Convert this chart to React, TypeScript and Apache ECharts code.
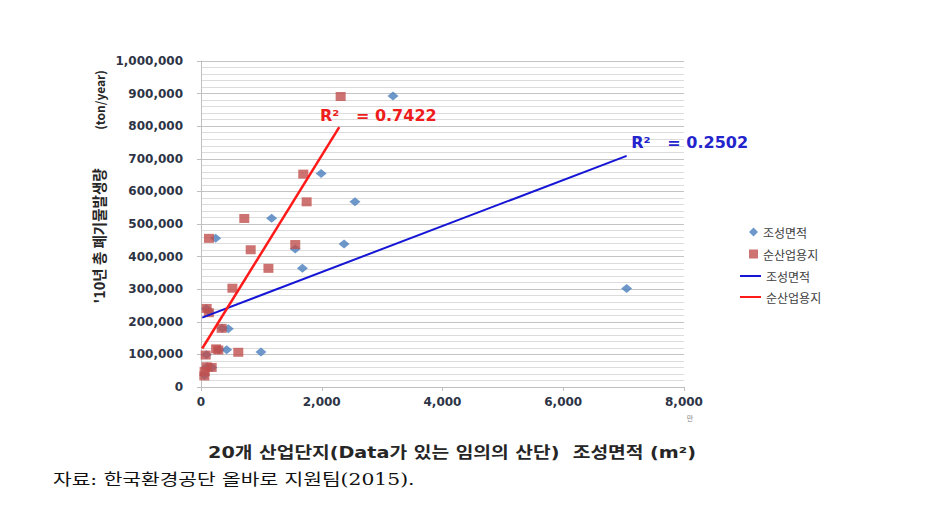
import React, { useEffect, useRef } from 'react';
import * as echarts from 'echarts';

// Series names (trend lines carry a zero-width mark so the legend keeps 4 items)
const areaName = '조성면적';
const netName = '순산업용지';
const areaTrendName = '조성면적\u200b';
const netTrendName = '순산업용지\u200b';

// 조성면적 (blue diamonds)
const areaX = [3180, 1990, 2550, 1170, 243, 2370, 1560, 1680, 7050, 452, 425, 993, 130, 90, 100, 60, 180, 300, 90, 350];
const areaY = [893000, 655000, 568000, 518000, 456000, 439000, 423000, 364000, 302000, 179000, 114000, 107000, 232000, 99000, 62000, 36000, 60000, 114000, 240000, 180000];

// 순산업용지 (red squares)
const netX = [2313, 1694, 1750, 717, 132, 823, 1561, 1117, 520, 94, 130, 342, 287, 250, 618, 78, 94, 177, 55, 60];
const netY = [891000, 653000, 568000, 517000, 456000, 421000, 437000, 364000, 303000, 241000, 228000, 180000, 113500, 117000, 106500, 98000, 62000, 60000, 34000, 48000];

// Linear trend lines (start / end)
const areaTrendX = [20, 7050];
const areaTrendY = [213000, 709000];
const netTrendX = [20, 2290];
const netTrendY = [118000, 797000];

const areaR2 = '0.2502';
const netR2 = '0.7422';

const xTicks = { min: 0, max: 8000, interval: 2000 };
const yTicks = { min: 0, max: 1000000, interval: 100000 };

const yAxisTitle = "'10년 총 폐기물발생량";
const yAxisUnit = '(ton/year)';
const xAxisTitle = '20개 산업단지(Data가 있는 임의의 산단)  조성면적 (m²)';
const unitMark = '만';
const sourceText = '자료: 한국환경공단 올바로 지원팀(2015).';

const zip = (xs: number[], ys: number[]) => xs.map((x, i) => [x, ys[i]]);

const tickFont = 'DejaVu Sans, Noto Sans CJK KR, sans-serif';

export default function App() {
  const ref = useRef<HTMLDivElement>(null);
  useEffect(() => {
    if (!ref.current) return;
    const chart = echarts.init(ref.current, undefined, { renderer: 'svg' });
    const r2Label = (val: string, color: string, offset: number[]) => ({
      show: true,
      position: 'inside',
      offset,
      formatter: `R²   = ${val}`,
      color,
      fontSize: 16,
      fontWeight: 'bold',
      fontFamily: tickFont,
    });
    const areaTrend = zip(areaTrendX, areaTrendY);
    const netTrend = zip(netTrendX, netTrendY);
    const legendText = { color: '#404040', fontSize: 12, fontFamily: 'Noto Sans CJK KR, sans-serif' };
    chart.setOption({
      animation: false,
      backgroundColor: '#ffffff',
      grid: { left: 201, right: 267, top: 61, bottom: 128 },
      xAxis: {
        type: 'value',
        ...xTicks,
        axisLine: { show: true, lineStyle: { color: '#bfbfbf' } },
        axisTick: { show: true, length: 4, lineStyle: { color: '#bfbfbf' } },
        splitLine: { show: false },
        axisLabel: {
          margin: 9,
          color: '#2d3446',
          fontWeight: 'bold',
          fontSize: 12,
          fontFamily: tickFont,
          formatter: (v: number) => v.toLocaleString('en-US'),
        },
      },
      yAxis: {
        type: 'value',
        ...yTicks,
        axisLine: { show: true, lineStyle: { color: '#bfbfbf' } },
        axisTick: { show: true, length: 4, lineStyle: { color: '#bfbfbf' } },
        splitLine: { show: true, lineStyle: { color: '#c4c4c4', width: 1 } },
        minorTick: { show: false, splitNumber: 5 },
        minorSplitLine: { show: true, lineStyle: { color: '#dcdcdc', width: 1 } },
        axisLabel: {
          margin: 18,
          color: '#2d3446',
          fontWeight: 'bold',
          fontSize: 12,
          fontFamily: tickFont,
          formatter: (v: number) => v.toLocaleString('en-US'),
        },
      },
      legend: [
        {
          orient: 'vertical',
          left: 744,
          top: 221,
          itemWidth: 9,
          itemHeight: 9,
          itemGap: 10,
          itemStyle: { borderWidth: 0 },
          data: [
            { name: areaName, icon: 'diamond' },
            { name: netName, icon: 'rect' },
          ],
          textStyle: legendText,
        },
        {
          orient: 'vertical',
          left: 735,
          top: 265,
          itemWidth: 21,
          itemHeight: 2,
          itemGap: 9,
          data: [
            { name: areaTrendName, icon: 'rect' },
            { name: netTrendName, icon: 'rect' },
          ],
          formatter: (n: string) => n.replace('\u200b', ''),
          textStyle: legendText,
        },
      ],
      series: [
        {
          name: areaName,
          type: 'scatter',
          symbol: 'diamond',
          symbolSize: [11, 9],
          itemStyle: { color: '#4a7ebb' },
          data: zip(areaX, areaY),
          z: 3,
        },
        {
          name: netName,
          type: 'scatter',
          symbol: 'rect',
          symbolSize: [10, 9],
          itemStyle: { color: '#c0504d' },
          data: zip(netX, netY),
          z: 4,
        },
        {
          name: areaTrendName,
          type: 'line',
          symbol: 'none',
          lineStyle: { color: '#1515d6', width: 2 },
          itemStyle: { color: '#1515d6' },
          data: areaTrend,
          z: 5,
          markPoint: {
            symbol: 'circle',
            symbolSize: 0,
            data: [{ coord: areaTrend[1], label: r2Label(areaR2, '#2424cc', [63, -13]) }],
          },
        },
        {
          name: netTrendName,
          type: 'line',
          symbol: 'none',
          lineStyle: { color: '#ff1a1a', width: 2.5 },
          itemStyle: { color: '#ff1a1a' },
          data: netTrend,
          z: 6,
          markPoint: {
            symbol: 'circle',
            symbolSize: 0,
            data: [{ coord: netTrend[1], label: r2Label(netR2, '#ee1c1c', [39, -12]) }],
          },
        },
      ],
      graphic: [
        {
          type: 'text',
          x: 98,
          y: 236,
          rotation: Math.PI / 2,
          style: {
            text: yAxisTitle,
            fill: '#262626',
            font: 'bold 14.5px "Noto Sans CJK KR", sans-serif',
            textAlign: 'center',
            textVerticalAlign: 'middle',
          },
        },
        {
          type: 'text',
          x: 99,
          y: 100,
          rotation: Math.PI / 2,
          style: {
            text: yAxisUnit,
            fill: '#262626',
            font: 'bold 12px "Noto Sans CJK KR", sans-serif',
            textAlign: 'center',
            textVerticalAlign: 'middle',
          },
        },
        {
          type: 'text',
          x: 452,
          y: 453,
          scaleX: 1.2,
          style: {
            text: xAxisTitle,
            fill: '#262626',
            font: 'bold 16px "DejaVu Sans", "Noto Sans CJK KR", sans-serif',
            textAlign: 'center',
            textVerticalAlign: 'middle',
          },
        },
        {
          type: 'text',
          x: 690,
          y: 418,
          style: {
            text: unitMark,
            fill: '#8a8a8a',
            font: '7px "Noto Sans CJK KR", sans-serif',
            textAlign: 'center',
            textVerticalAlign: 'middle',
          },
        },
        {
          type: 'text',
          x: 53,
          y: 479,
          scaleX: 1.27,
          style: {
            text: sourceText,
            fill: '#111111',
            font: '16px "DejaVu Serif", "Noto Sans CJK KR", serif',
            textAlign: 'left',
            textVerticalAlign: 'middle',
          },
        },
      ],
    });
    return () => chart.dispose();
  }, []);
  return (
    <div
      ref={ref}
      style={{ position: 'fixed', left: 0, top: 0, width: 951, height: 515, background: '#fff' }}
    />
  );
}
